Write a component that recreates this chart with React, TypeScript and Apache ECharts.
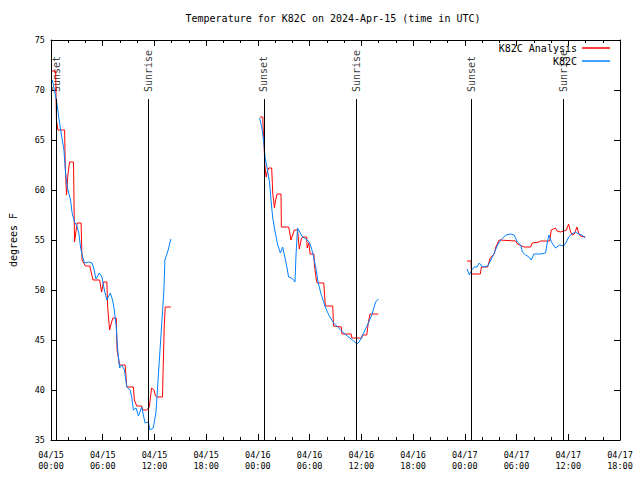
import React, { useEffect, useRef } from "react";
import * as echarts from "echarts";

const FONT = "'DejaVu Sans Mono', monospace";

// hours since 04/15 00:00 UTC -> temperature (F)
const analysis1: [number, number][] = [[0.12,71.9],[0.54,71.9],[0.63,67.0],[0.8,66.0],[1.58,66.0],[1.65,62.5],[1.8,59.5],[1.96,61.5],[2.15,62.8],[2.61,62.8],[2.73,54.8],[3.03,56.7],[3.49,56.7],[3.6,53.0],[4.0,52.4],[4.5,52.4],[4.87,51.0],[5.64,51.0],[5.87,49.8],[6.1,50.8],[6.48,50.8],[6.57,48.3],[6.8,46.0],[7.0,46.7],[7.18,47.2],[7.57,47.2],[7.66,44.0],[7.83,43.2],[7.95,42.5],[8.6,42.5],[8.7,41.3],[8.79,40.3],[9.56,40.3],[9.67,39.0],[9.94,38.4],[10.52,38.4],[10.63,38.0],[11.09,38.0],[11.4,38.3],[11.67,40.2],[11.94,40.0],[12.1,39.5],[12.24,39.3],[12.93,39.3],[13.0,41.8],[13.13,46.2],[13.25,48.3],[13.9,48.3]];
const analysis2: [number, number][] = [[24.22,67.3],[24.57,67.3],[24.6,66.3],[24.73,64.2],[24.8,62.5],[24.96,61.3],[25.07,61.8],[25.25,62.2],[25.6,62.2],[25.72,59.7],[25.92,58.2],[26.03,58.9],[26.22,59.6],[26.68,59.6],[26.72,56.3],[27.56,56.3],[27.64,56.0],[27.83,55.0],[28.03,55.5],[28.22,56.0],[28.6,56.0],[28.8,54.1],[29.06,55.2],[29.29,55.3],[29.66,55.3],[29.72,54.2],[29.9,54.7],[30.06,53.6],[30.5,53.6],[30.55,52.5],[30.75,51.2],[30.87,50.7],[31.64,50.7],[31.82,48.4],[32.68,48.4],[32.77,46.4],[33.67,46.3],[33.75,45.6],[34.82,45.6],[34.9,45.2],[36.05,45.2],[36.1,45.5],[36.63,45.5],[36.8,46.7],[37.0,47.6],[37.97,47.6]];
const analysis3: [number, number][] = [[48.26,52.9],[48.72,52.9],[48.78,51.6],[49.79,51.6],[49.93,52.3],[50.65,52.3],[50.94,53.2],[51.41,53.6],[51.6,54.3],[51.98,55.0],[53.9,54.9],[54.1,54.6],[54.86,54.3],[55.63,54.3],[55.83,54.7],[56.59,54.8],[56.78,54.9],[57.86,54.9],[58.02,56.0],[58.51,56.2],[58.71,55.9],[59.09,55.8],[59.47,55.9],[59.78,56.0],[60.04,56.6],[60.24,55.9],[60.43,55.5],[60.7,55.6],[61.01,56.3],[61.2,55.7],[61.39,55.4],[61.97,55.3]];

const obs1: [number, number][] = [[0.15,71.0],[0.35,70.2],[0.66,68.8],[0.92,67.2],[1.12,66.0],[1.5,64.0],[1.69,61.7],[1.88,60.3],[2.27,59.0],[2.45,57.7],[2.73,56.8],[2.96,56.5],[3.23,55.7],[3.42,54.3],[3.61,53.5],[3.88,52.7],[4.38,52.8],[4.76,52.7],[4.95,52.2],[5.22,51.1],[5.61,51.7],[5.91,51.3],[6.19,50.0],[6.48,49.0],[6.88,49.7],[7.14,49.0],[7.34,48.0],[7.57,46.3],[7.72,44.2],[7.95,42.2],[8.21,42.5],[8.52,42.0],[8.79,40.3],[9.18,40.0],[9.36,39.3],[9.56,38.0],[9.87,38.2],[10.14,37.4],[10.52,38.3],[10.91,36.7],[11.29,36.8],[11.48,36.0],[11.86,36.2],[12.17,37.7],[12.44,41.3],[12.82,46.3],[13.1,50.0],[13.21,53.0],[13.59,54.0],[13.9,55.1]];
const obs2: [number, number][] = [[24.19,67.2],[24.45,66.3],[24.68,64.8],[24.84,63.2],[25.07,62.2],[25.34,60.8],[25.54,58.8],[25.72,57.2],[26.0,55.8],[26.3,54.5],[26.61,53.7],[26.87,54.3],[27.15,53.2],[27.38,52.2],[27.56,51.3],[27.91,51.2],[28.14,51.0],[28.3,50.8],[28.42,53.5],[28.6,56.2],[28.91,55.7],[29.18,55.3],[29.57,55.1],[29.95,54.8],[30.21,54.2],[30.46,53.3],[30.72,52.2],[30.98,50.8],[31.29,49.7],[31.44,49.3],[31.82,48.3],[32.22,47.5],[32.79,46.7],[33.37,46.2],[33.94,45.7],[34.52,45.3],[35.1,44.9],[35.48,44.6],[35.74,44.8],[36.05,45.3],[36.43,46.0],[36.82,46.7],[37.2,47.5],[37.51,48.4],[37.66,48.8],[37.97,49.1]];
const obs3: [number, number][] = [[48.26,52.1],[48.53,51.5],[48.8,52.0],[49.1,52.3],[49.41,52.3],[49.68,52.7],[50.07,52.3],[50.65,52.4],[51.03,53.0],[51.41,53.7],[51.8,54.5],[52.18,55.0],[52.75,55.5],[53.33,55.6],[53.71,55.5],[54.1,54.8],[54.48,54.5],[54.68,53.8],[55.06,53.5],[55.44,53.3],[55.71,53.0],[56.01,53.6],[56.78,53.6],[57.36,53.7],[57.56,54.7],[57.74,55.5],[58.05,54.8],[58.51,54.2],[59.01,54.5],[59.47,54.4],[59.78,54.8],[60.04,55.3],[60.43,55.6],[60.81,55.8],[61.2,55.6],[61.59,55.5],[61.97,55.2]];

const sunHours = [0.61, 11.32, 24.69, 35.4, 48.8, 59.4];
const sunNames = ["Sunset", "Sunrise", "Sunset", "Sunrise", "Sunset", "Sunrise"];
const SUN_LINE_TOP = 69.1;
const SUN_LABEL_BASE = 69.8;

const xTickLabels = [
  "04/15\n00:00", "04/15\n06:00", "04/15\n12:00", "04/15\n18:00",
  "04/16\n00:00", "04/16\n06:00", "04/16\n12:00", "04/16\n18:00",
  "04/17\n00:00", "04/17\n06:00", "04/17\n12:00", "04/17\n18:00",
];

const RED = "#ff0000";
const BLUE = "#0080ff";

function lineSeries(name: string, data: [number, number][], color: string) {
  return {
    type: "line",
    name,
    data,
    color,
    symbol: "none",
    showSymbol: false,
    lineStyle: { color, width: 1 },
    itemStyle: { color },
    silent: true,
    z: color === BLUE ? 4 : 3,
  };
}

export default function App() {
  const ref = useRef<HTMLDivElement>(null);
  useEffect(() => {
    const chart = echarts.init(ref.current!, undefined, { renderer: "svg" });
    const axisCommon = {
      axisLine: { show: true, onZero: false, lineStyle: { color: "#000", width: 1 } },
      axisTick: { show: true, inside: true, length: 6, lineStyle: { color: "#000", width: 1 } },
      splitLine: { show: false },
    };
    const xCommon = {
      type: "value",
      min: 0,
      max: 66,
      interval: 6,
      ...axisCommon,
      minorTick: { show: true, splitNumber: 3, length: 3, lineStyle: { color: "#000", width: 1 } },
    };
    const yCommon = { type: "value", min: 35, max: 75, interval: 5, ...axisCommon };
    const legendCommon = {
      right: 30,
      orient: "vertical",
      align: "right",
      icon: "rect",
      itemWidth: 28,
      itemHeight: 1.5,
      padding: 0,
      selectedMode: false,
      textStyle: { fontSize: 10, color: "#000", fontFamily: FONT },
    };
    chart.setOption({
      animation: false,
      textStyle: { fontFamily: FONT },
      title: {
        text: "Temperature for K82C on 2024-Apr-15 (time in UTC)",
        left: 333,
        top: 13,
        padding: 0,
        textAlign: "center",
        textStyle: { fontSize: 10, fontWeight: "normal", color: "#000", fontFamily: FONT },
      },
      legend: [
        { ...legendCommon, top: 43, data: ["K82C Analysis"] },
        { ...legendCommon, top: 56, data: ["K82C"] },
      ],
      grid: { left: 47, right: 20, top: 40, bottom: 40 },
      xAxis: [
        {
          ...xCommon,
          position: "bottom",
          axisLabel: {
            show: true,
            color: "#000",
            fontSize: 8.5,
            lineHeight: 11,
            margin: 9,
            fontFamily: FONT,
            formatter: (v: number) => xTickLabels[Math.round(v / 6)] ?? "",
          },
        },
        { ...xCommon, position: "top", axisLabel: { show: false } },
      ],
      yAxis: [
        {
          ...yCommon,
          position: "left",
          name: "degrees F",
          nameLocation: "middle",
          nameRotate: 90,
          nameGap: 33,
          nameTextStyle: { fontSize: 10, color: "#000", fontFamily: FONT },
          axisLabel: { show: true, color: "#000", fontSize: 8.5, margin: 6, fontFamily: FONT },
        },
        { ...yCommon, position: "right", axisLabel: { show: false } },
      ],
      series: [
        lineSeries("K82C Analysis", analysis1, RED),
        lineSeries("K82C Analysis", analysis2, RED),
        lineSeries("K82C Analysis", analysis3, RED),
        lineSeries("K82C", obs1, BLUE),
        lineSeries("K82C", obs2, BLUE),
        lineSeries("K82C", obs3, BLUE),
        {
          type: "scatter",
          name: "sun",
          silent: true,
          symbolSize: 1,
          itemStyle: { color: "rgba(0,0,0,0)" },
          data: sunHours.map((h, i) => ({ value: [h, SUN_LABEL_BASE], name: sunNames[i] })),
          label: {
            show: true,
            position: "inside",
            rotate: 90,
            align: "left",
            verticalAlign: "middle",
            formatter: "{b}",
            fontSize: 10,
            color: "#000",
            fontFamily: FONT,
          },
          markLine: {
            silent: true,
            symbol: ["none", "none"],
            label: { show: false },
            lineStyle: { color: "#000", width: 1, type: "solid" },
            data: sunHours.map((h) => [{ coord: [h, SUN_LINE_TOP] }, { coord: [h, 35] }]),
          },
          z: 2,
        },
      ],
    });
    return () => chart.dispose();
  }, []);
  return (
    <div
      ref={ref}
      style={{ position: "absolute", left: 0, top: 0, width: 640, height: 480, background: "#fff" }}
    />
  );
}
